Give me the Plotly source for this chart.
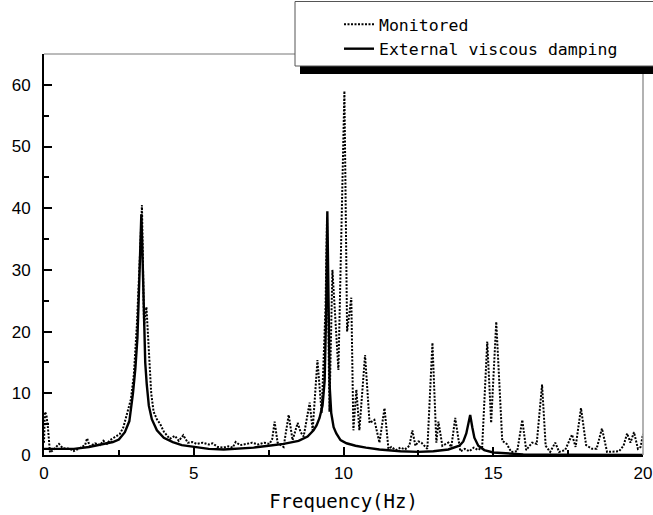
import plotly.graph_objects as go

# ---- data ----
freq_monitored = [
    0.0, 0.03, 0.08, 0.13, 0.2, 0.33, 0.5, 0.63, 0.87, 0.97,
    1.2, 1.37, 1.44, 1.53, 1.7, 1.87, 1.98, 2.1, 2.2, 2.37,
    2.53, 2.65, 2.77, 2.9, 3.0, 3.1, 3.2, 3.27, 3.34, 3.42,
    3.5, 3.58, 3.66, 3.77, 3.88, 4.0, 4.2, 4.37, 4.5, 4.65,
    4.8, 4.95, 5.1, 5.3, 5.5, 5.63, 5.8, 6.0, 6.15, 6.3,
    6.4, 6.55, 6.77, 6.95, 7.15, 7.35, 7.53, 7.62, 7.7, 7.8,
    8.0, 8.17, 8.3, 8.47, 8.57, 8.67, 8.87, 8.97, 9.13, 9.27,
    9.4, 9.45, 9.53, 9.63, 9.83, 10.03, 10.12, 10.26, 10.33, 10.43,
    10.53, 10.72, 10.87, 11.03, 11.2, 11.37, 11.5, 11.6, 11.75, 11.9,
    12.05, 12.2, 12.3, 12.4, 12.5, 12.6, 12.8, 12.97, 13.1, 13.17,
    13.3, 13.5, 13.6, 13.73, 13.9, 14.05, 14.2, 14.35, 14.5, 14.63,
    14.8, 14.93, 15.1, 15.3, 15.45, 15.6, 15.8, 15.97, 16.1, 16.3,
    16.45, 16.63, 16.75, 16.9, 17.07, 17.2, 17.4, 17.5, 17.63, 17.75,
    17.93, 18.1, 18.3, 18.45, 18.63, 18.8, 19.0, 19.2, 19.35, 19.47,
    19.58, 19.7, 19.83, 19.92, 20.0,
]
amp_monitored = [
    2.0, 7.0, 6.5, 4.5, 0.4, 0.9, 1.8, 1.1, 1.0, 0.6,
    1.1, 1.6, 2.7, 1.4, 1.9, 1.6, 2.3, 1.8, 2.4, 2.9,
    3.4, 4.5, 6.5, 9.0, 13.0, 21.0, 32.0, 40.5, 21.0, 24.0,
    17.0, 10.0, 7.0, 5.8, 5.0, 3.8, 2.6, 3.1, 2.3, 3.2,
    2.0, 2.1, 1.8, 2.0, 1.7, 1.9, 1.3, 1.2, 1.4, 1.2,
    2.1, 1.6, 1.8, 2.0, 1.7, 2.0, 1.8, 2.6, 5.4, 2.0,
    1.3, 6.5, 2.4, 5.2, 3.7, 3.0, 8.5, 4.0, 15.4, 6.8,
    24.0, 38.5, 7.0, 30.0, 13.8, 59.0, 20.0, 25.5, 4.0, 10.6,
    4.0, 16.2, 5.2, 5.7, 2.0, 7.6, 1.0, 1.3, 0.8, 1.2,
    0.9, 1.5, 4.0, 1.5, 2.2, 2.0, 1.0, 18.2, 2.0, 5.4,
    1.5, 2.0, 1.3, 6.0, 0.6, 1.0, 0.6, 1.2, 0.8, 1.3,
    18.4, 5.2, 21.6, 2.3, 1.8, 0.5, 0.6, 5.7, 0.8, 2.0,
    1.8, 11.4, 1.5, 0.5, 2.0, 0.5, 0.8, 2.0, 3.3, 1.3,
    7.6, 1.6, 1.0, 1.0, 4.3, 0.5, 0.5, 0.6, 1.5, 3.5,
    2.0, 3.7, 1.0, 1.3, 3.4,
]

freq_damping = [
    0.0, 0.5, 1.0, 1.5, 2.0, 2.3, 2.5, 2.7, 2.85, 2.97,
    3.05, 3.12, 3.18, 3.22, 3.25, 3.28, 3.32, 3.38, 3.43, 3.5,
    3.6, 3.77, 4.0, 4.3, 4.6, 5.0, 5.5, 6.0, 6.5, 7.0,
    7.5, 8.0, 8.5, 8.8, 9.0, 9.1, 9.2, 9.3, 9.37, 9.42,
    9.46, 9.5, 9.54, 9.59, 9.67, 9.76, 9.9, 10.1, 10.4, 10.75,
    11.2, 11.9, 12.5, 13.0, 13.5, 13.87, 14.0, 14.1, 14.17, 14.23,
    14.3, 14.37, 14.5, 14.7, 15.0, 15.5, 16.0, 17.0, 18.0, 19.0,
    20.0,
]
amp_damping = [
    1.0, 1.0, 1.0, 1.3, 1.8, 2.1, 2.5, 3.7, 5.5, 10.0,
    14.0, 19.0, 28.0, 35.0, 39.0, 34.0, 24.0, 15.0, 11.5, 8.0,
    5.8, 4.0, 2.8, 2.1, 1.6, 1.3, 1.0, 0.9, 1.0, 1.2,
    1.5, 1.8, 2.3, 3.0, 4.0, 4.8, 6.0, 8.0, 12.0, 23.0,
    39.5, 23.0, 11.0, 6.8, 4.5, 3.5, 2.4, 1.9, 1.5, 1.2,
    0.9, 0.6, 0.5, 0.6, 0.9, 1.5, 2.2, 3.5, 5.0, 6.5,
    4.5, 2.8, 1.5, 0.8, 0.4, 0.2, 0.1, 0.05, 0.03, 0.02,
    0.02,
]

series_names = ["Monitored", "External viscous damping"]
x_ticks = [0, 5, 10, 15, 20]
y_ticks = [0, 10, 20, 30, 40, 50, 60]
x_title = "Frequency(Hz)"

# ---- figure: the page's body margin is removed so figure px == page px ----
W, H = 653, 515
ML, MT = 44, 54
MR = W - 643
MB = H - 455
pw, ph = W - ML - MR, H - MT - MB
MONO = "DejaVu Sans Mono, Liberation Mono, monospace"


def px2paper_x(px):
    return (px - ML) / pw


def px2paper_y(py):
    return (H - MB - py) / ph


fig = go.Figure()
fig.add_trace(go.Scatter(
    x=freq_monitored, y=amp_monitored, mode="lines", name=series_names[0],
    line=dict(color="black", width=2, dash="2px,1.5px"),
))
fig.add_trace(go.Scatter(
    x=freq_damping, y=amp_damping, mode="lines", name=series_names[1],
    line=dict(color="black", width=2.4),
))

shapes = [
    # thin grey top and right frame lines
    dict(type="line", xref="paper", yref="paper", x0=0, x1=1, y0=1, y1=1,
         line=dict(color="#777777", width=1)),
    dict(type="line", xref="paper", yref="paper", x0=1, x1=1, y0=0, y1=1,
         line=dict(color="#999999", width=1.5)),
    # legend shadow
    dict(type="rect", xref="paper", yref="paper",
         x0=px2paper_x(300), x1=px2paper_x(670), y0=px2paper_y(74), y1=px2paper_y(62),
         fillcolor="black", line=dict(width=0)),
    # legend box
    dict(type="rect", xref="paper", yref="paper",
         x0=px2paper_x(295), x1=px2paper_x(670), y0=px2paper_y(66), y1=px2paper_y(1.5),
         fillcolor="white", line=dict(color="#555555", width=1)),
]

fig.update_layout(
    width=W, height=H,
    margin=dict(l=ML, r=MR, t=MT, b=MB, autoexpand=False),
    paper_bgcolor="white", plot_bgcolor="white",
    showlegend=True,
    hovermode=False,
    legend=dict(
        x=px2paper_x(339), y=px2paper_y(7), xanchor="left", yanchor="top",
        bgcolor="rgba(0,0,0,0)", borderwidth=0,
        font=dict(family=MONO, size=16.5, color="black"),
        tracegroupgap=0, itemclick=False,
    ),
    shapes=shapes,
    xaxis=dict(
        range=[0, 20], tickvals=x_ticks, ticktext=[str(v) for v in x_ticks],
        showgrid=False, zeroline=False,
        showline=True, linecolor="black", linewidth=2,
        ticks="inside", ticklen=8, tickwidth=1.5, tickcolor="black",
        minor=dict(dtick=2.5, tick0=0, ticks="inside", ticklen=5, tickwidth=1.5, tickcolor="black"),
        tickfont=dict(family="Liberation Sans, Arial, sans-serif", size=17, color="black"),
        ticklabelstandoff=2,
        title=dict(text=x_title, standoff=12,
                   font=dict(family=MONO, size=19, color="black")),
    ),
    yaxis=dict(
        range=[0, 65], tickvals=y_ticks, ticktext=[str(v) for v in y_ticks],
        showgrid=False, zeroline=False,
        showline=True, linecolor="black", linewidth=2,
        ticks="inside", ticklen=8, tickwidth=1.5, tickcolor="black",
        minor=dict(dtick=5, tick0=0, ticks="inside", ticklen=5, tickwidth=1.5, tickcolor="black"),
        tickfont=dict(family="Liberation Sans, Arial, sans-serif", size=17, color="black"),
        ticklabelstandoff=8,
    ),
)

fig.write_html(
    "out.html",
    config={"displayModeBar": False},
    post_script="document.body.style.margin='0';document.body.style.overflow='hidden';",
)
